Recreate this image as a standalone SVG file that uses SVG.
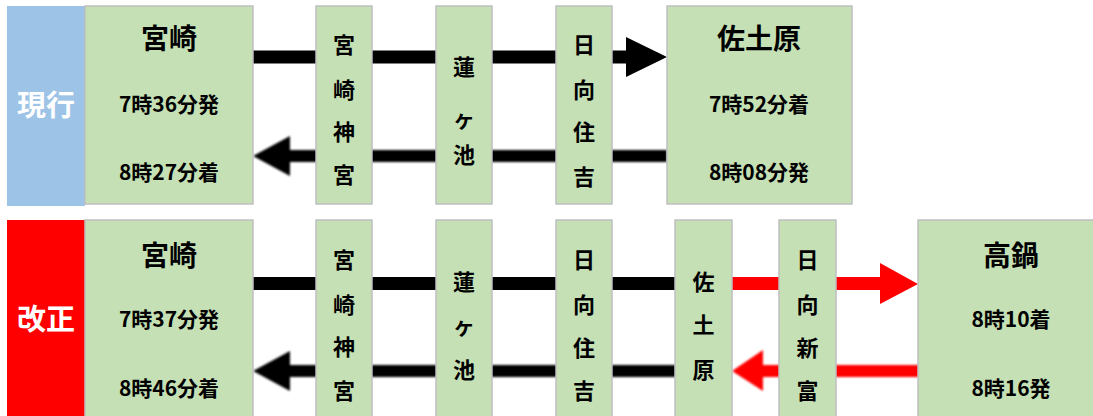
<svg xmlns="http://www.w3.org/2000/svg" width="1093" height="416" viewBox="0 0 1093 416">
<defs>
<style>
.box{fill:#c5e0b4;stroke:#bfbfbf;stroke-width:1.5}
.t{font-family:"Noto Sans CJK JP","Noto Sans",sans-serif;font-weight:bold;fill:#000;text-anchor:middle;dominant-baseline:central}
.title{font-size:28px}
.time{font-size:21px}
.v{font-size:22px}
.lab{font-size:29px;fill:#fff}
.blk{fill:#000}
.red{fill:#ff0000}
</style>
<filter id="soft" x="-5%" y="-50%" width="110%" height="200%">
<feGaussianBlur stdDeviation="0.9"/>
</filter>
</defs>

<g id="connectors">
<rect class="blk" x="253" y="50.5" width="374" height="13"/>
<polygon class="blk" points="626,37 667,57 626,77"/>
<g filter="url(#soft)">
<rect class="blk" x="289" y="150" width="378" height="12"/>
<polygon class="blk" points="290,136 253,156 290,176"/>
</g>
<rect class="blk" x="253" y="277" width="423" height="13"/>
<rect class="red" x="732" y="277" width="149" height="13"/>
<polygon class="red" points="880,263 918,284 880,304"/>
<g filter="url(#soft)">
<rect class="blk" x="289" y="365" width="387" height="12"/>
<polygon class="blk" points="290,351 253,371 290,391"/>
<rect class="red" x="762" y="365" width="157" height="12"/>
<polygon class="red" points="763,350 732,371 763,391"/>
</g>
</g>

<g id="label-genko">
<rect x="7" y="6" width="78" height="200" fill="#9dc3e6"/>
<text class="t lab" x="46" y="103">現行</text>
</g>
<g id="top-miyazaki">
<rect class="box" x="85" y="6" width="168" height="198"/>
<text class="t title" x="169" y="37">宮崎</text>
<text class="t time" x="169" y="103">7時36分発</text>
<text class="t time" x="169" y="171">8時27分着</text>
</g>
<g id="top-miyazakijingu">
<rect class="box" x="316" y="6" width="56" height="198"/>
<text class="t v" x="344" y="43">宮</text>
<text class="t v" x="344" y="88">崎</text>
<text class="t v" x="344" y="130">神</text>
<text class="t v" x="344" y="173">宮</text>
</g>
<g id="top-hasugaike">
<rect class="box" x="436" y="6" width="56" height="198"/>
<text class="t v" x="464" y="65">蓮</text>
<text class="t v" x="464" y="117">ヶ</text>
<text class="t v" x="464" y="153">池</text>
</g>
<g id="top-hyugasumiyoshi">
<rect class="box" x="556" y="6" width="56" height="198"/>
<text class="t v" x="584" y="43">日</text>
<text class="t v" x="584" y="88">向</text>
<text class="t v" x="584" y="130">住</text>
<text class="t v" x="584" y="175">吉</text>
</g>
<g id="top-sadowara">
<rect class="box" x="667" y="6" width="185" height="198"/>
<text class="t title" x="759" y="37">佐土原</text>
<text class="t time" x="759" y="103">7時52分着</text>
<text class="t time" x="759" y="171">8時08分発</text>
</g>

<g id="label-kaisei">
<rect x="7" y="220" width="78" height="200" fill="#ff0000"/>
<text class="t lab" x="46" y="317">改正</text>
</g>
<g id="bot-miyazaki">
<rect class="box" x="85" y="220" width="168" height="200"/>
<text class="t title" x="169" y="254">宮崎</text>
<text class="t time" x="169" y="318">7時37分発</text>
<text class="t time" x="169" y="387">8時46分着</text>
</g>
<g id="bot-miyazakijingu">
<rect class="box" x="316" y="220" width="56" height="200"/>
<text class="t v" x="344" y="258">宮</text>
<text class="t v" x="344" y="303">崎</text>
<text class="t v" x="344" y="345">神</text>
<text class="t v" x="344" y="389">宮</text>
</g>
<g id="bot-hasugaike">
<rect class="box" x="436" y="220" width="56" height="200"/>
<text class="t v" x="464" y="280">蓮</text>
<text class="t v" x="464" y="324">ヶ</text>
<text class="t v" x="464" y="368">池</text>
</g>
<g id="bot-hyugasumiyoshi">
<rect class="box" x="556" y="220" width="56" height="200"/>
<text class="t v" x="584" y="258">日</text>
<text class="t v" x="584" y="303">向</text>
<text class="t v" x="584" y="346">住</text>
<text class="t v" x="584" y="389">吉</text>
</g>
<g id="bot-sadowara">
<rect class="box" x="675" y="220" width="57" height="200"/>
<text class="t v" x="703.5" y="280">佐</text>
<text class="t v" x="703.5" y="323">土</text>
<text class="t v" x="703.5" y="368">原</text>
</g>
<g id="bot-hyugashintomi">
<rect class="box" x="779" y="220" width="57" height="200"/>
<text class="t v" x="807.5" y="258">日</text>
<text class="t v" x="807.5" y="303">向</text>
<text class="t v" x="807.5" y="346">新</text>
<text class="t v" x="807.5" y="389">富</text>
</g>
<g id="bot-takanabe">
<rect class="box" x="918" y="220" width="186" height="200"/>
<text class="t title" x="1011" y="254">高鍋</text>
<text class="t time" x="1011" y="318">8時10着</text>
<text class="t time" x="1011" y="387">8時16発</text>
</g>
</svg>
